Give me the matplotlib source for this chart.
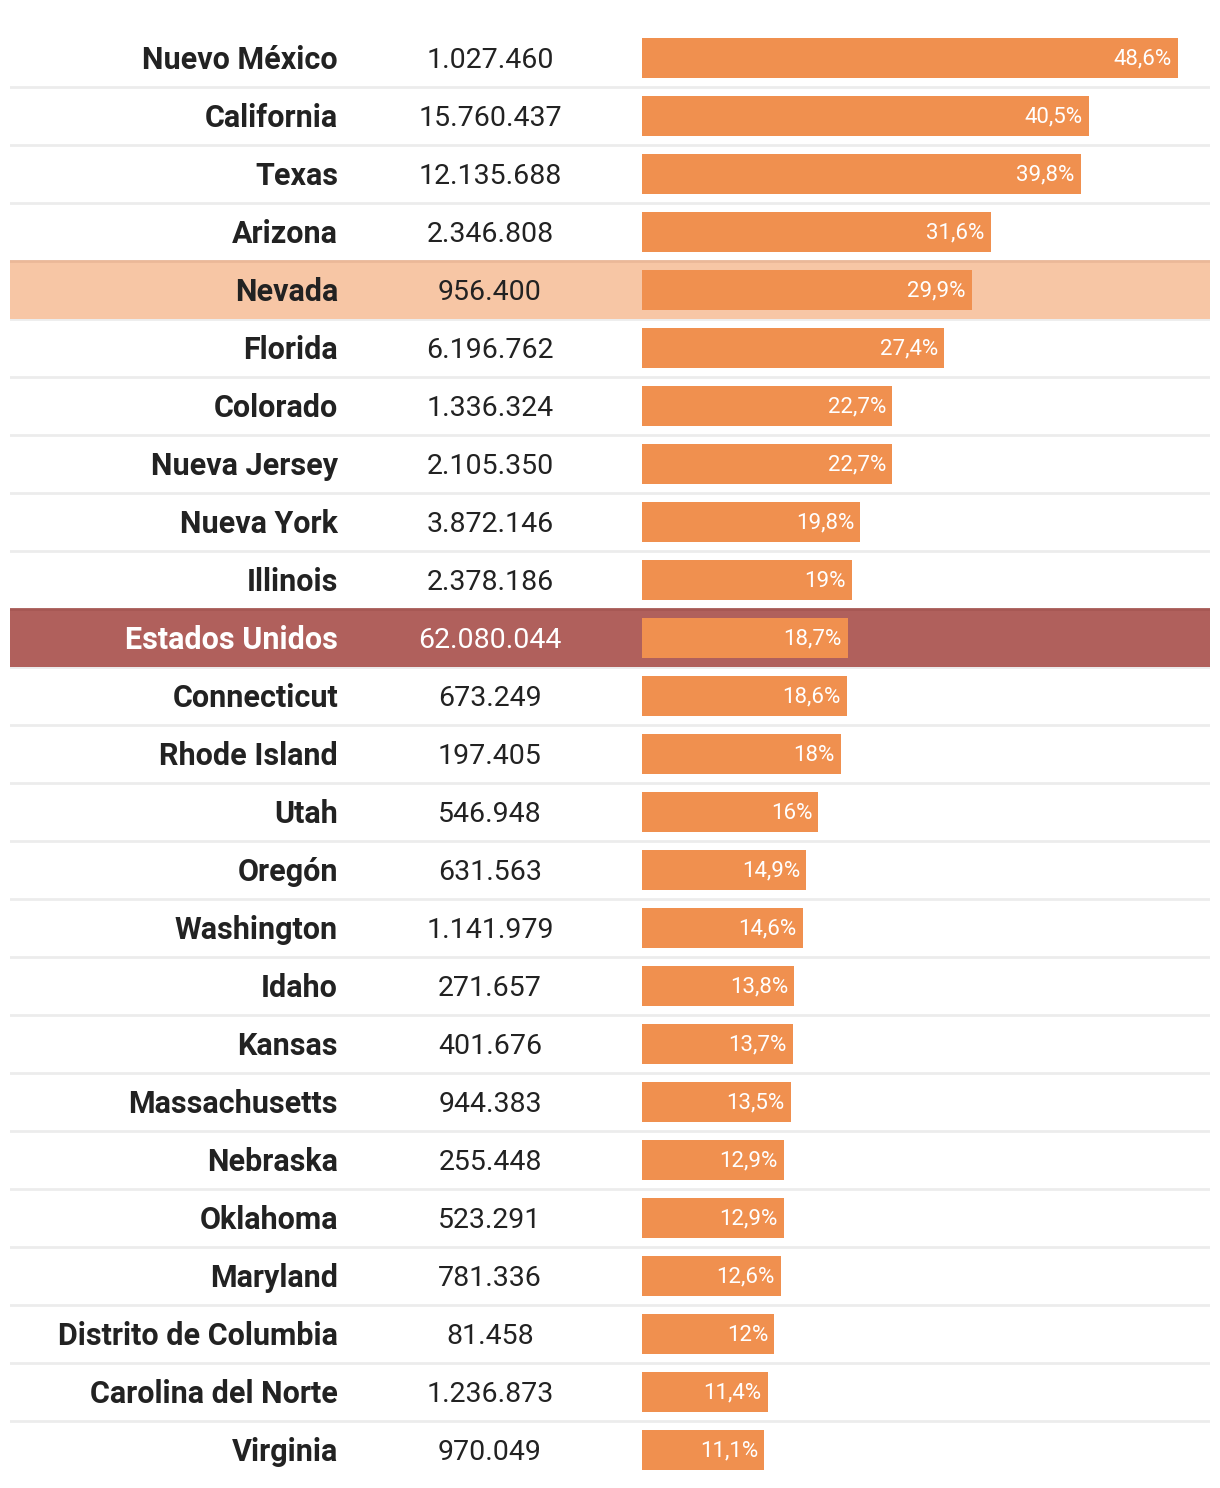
import matplotlib.pyplot as plt
from matplotlib import transforms

plt.rcParams['font.family'] = ['Roboto', 'DejaVu Sans']

## Data
states = ['Nuevo México', 'California', 'Texas', 'Arizona', 'Nevada', 'Florida',
          'Colorado', 'Nueva Jersey', 'Nueva York', 'Illinois', 'Estados Unidos',
          'Connecticut', 'Rhode Island', 'Utah', 'Oregón', 'Washington', 'Idaho',
          'Kansas', 'Massachusetts', 'Nebraska', 'Oklahoma', 'Maryland',
          'Distrito de Columbia', 'Carolina del Norte', 'Virginia']
population = [1027460, 15760437, 12135688, 2346808, 956400, 6196762,
              1336324, 2105350, 3872146, 2378186, 62080044,
              673249, 197405, 546948, 631563, 1141979, 271657,
              401676, 944383, 255448, 523291, 781336,
              81458, 1236873, 970049]
share = [48.6, 40.5, 39.8, 31.6, 29.9, 27.4,
         22.7, 22.7, 19.8, 19.0, 18.7,
         18.6, 18.0, 16.0, 14.9, 14.6, 13.8,
         13.7, 13.5, 12.9, 12.9, 12.6,
         12.0, 11.4, 11.1]

highlight = 'Nevada'
total = 'Estados Unidos'

bar_color = '#f0904f'
light_row = '#f7c6a5'
dark_row = '#b0605c'
text_color = '#222222'
sep_color = '#ececec'

W, H = 1220, 1488
fig = plt.figure(figsize=(W / 100, H / 100), dpi=100)

n = len(states)
top, bottom = 29, 1479
rows = list(range(n))

# background axes (full width) for row bands / separators
ax_bg = fig.add_axes([10 / W, (H - bottom) / H, 1200 / W, (bottom - top) / H])
ax_bg.set_xlim(0, 1)
ax_bg.set_ylim(n - 0.5, -0.5)
ax_bg.axis('off')

for i, s in enumerate(states):
    if s == highlight:
        ax_bg.axhspan(i - 0.5, i + 0.5, color=light_row, lw=0)
        ax_bg.axhline(i - 0.5, color='#ebb898', lw=2)
    elif s == total:
        ax_bg.axhspan(i - 0.5, i + 0.5, color=dark_row, lw=0)
        ax_bg.axhline(i - 0.5, color='#a65854', lw=2)
    if i < n - 1 and s != total and states[i + 1] != total:
        ax_bg.axhline(i + 0.5, color=sep_color, lw=2, zorder=0)
    elif s == total:
        ax_bg.axhline(i + 0.5, color=sep_color, lw=2, zorder=0)

# bars axes
x0 = 642
px_per_pct = (1178 - 642) / 48.6
ax = fig.add_axes([x0 / W, (H - bottom) / H, (1210 - x0) / W, (bottom - top) / H])
ax.patch.set_alpha(0)
ax.set_xlim(0, (1210 - x0) / px_per_pct)
ax.set_ylim(n - 0.5, -0.5)
ax.axis('off')
ax.barh(rows, share, height=0.69, color=bar_color)


def fmt_pct(v):
    if float(v).is_integer():
        return f'{int(v)}%'
    return f'{v:.1f}%'.replace('.', ',')


for i, v in enumerate(share):
    ax.annotate(fmt_pct(v), (v, i), xytext=(-4.5, -1), textcoords='offset points',
                ha='right', va='center', color='white', fontsize=16)

# text columns
trans_lab = transforms.blended_transform_factory(fig.transFigure, ax_bg.transData)
for i, (s, p) in enumerate(zip(states, population)):
    c = 'white' if s == total else text_color
    ax_bg.annotate(s, (338 / W, i), xycoords=trans_lab, xytext=(0, -1.5),
                   textcoords='offset points', ha='right', va='center',
                   fontsize=22, fontweight='bold', color=c)
    ax_bg.annotate(f'{p:,}'.replace(',', '.'), (490 / W, i), xycoords=trans_lab,
                   xytext=(0, -1.5), textcoords='offset points',
                   ha='center', va='center', fontsize=20.5, color=c)

fig.savefig('out.png', dpi=100, facecolor='white')
